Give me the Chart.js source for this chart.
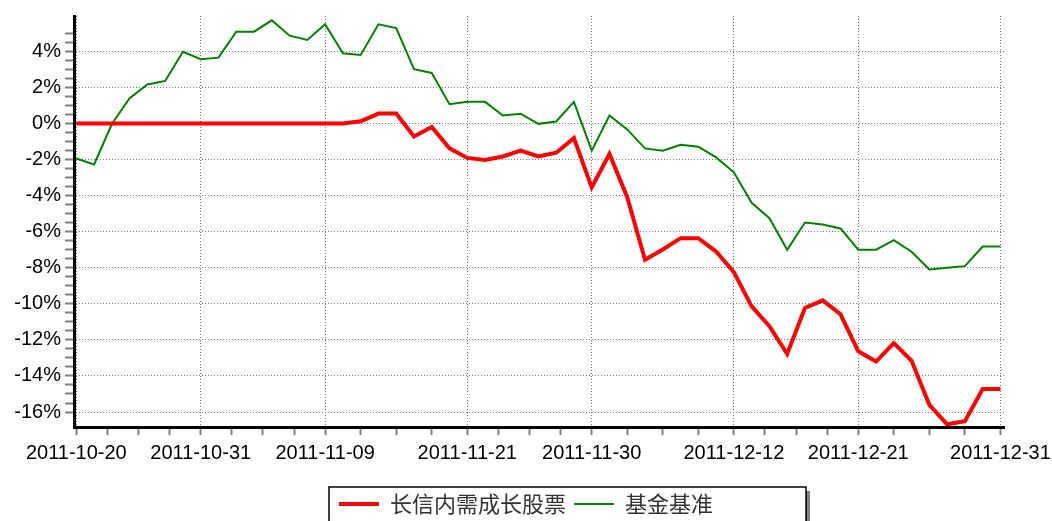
<!DOCTYPE html>
<html>
<head>
<meta charset="utf-8">
<script src="https://cdn.jsdelivr.net/npm/chart.js@4/dist/chart.umd.min.js"></script>
<style>
html,body{margin:0;padding:0;background:#fff;}
#c{display:block;}
</style>
</head>
<body>
<canvas id="c" width="1052" height="521"></canvas>
<script>
const dates = [
  '2011-10-20','2011-10-21','2011-10-24','2011-10-25','2011-10-26','2011-10-27','2011-10-28','2011-10-31',
  '2011-11-01','2011-11-02','2011-11-03','2011-11-04','2011-11-07','2011-11-08','2011-11-09','2011-11-10',
  '2011-11-11','2011-11-14','2011-11-15','2011-11-16','2011-11-17','2011-11-18','2011-11-21','2011-11-22',
  '2011-11-23','2011-11-24','2011-11-25','2011-11-28','2011-11-29','2011-11-30','2011-12-01','2011-12-02',
  '2011-12-05','2011-12-06','2011-12-07','2011-12-08','2011-12-09','2011-12-12','2011-12-13','2011-12-14',
  '2011-12-15','2011-12-16','2011-12-19','2011-12-20','2011-12-21','2011-12-22','2011-12-23','2011-12-26',
  '2011-12-27','2011-12-28','2011-12-29','2011-12-30','2011-12-31'
];

const fundValues = [
  0, 0, 0, 0, 0, 0, 0, 0, 0, 0,
  0, 0, 0, 0, 0, 0, 0.12, 0.55, 0.55, -0.72,
  -0.20, -1.38, -1.91, -2.02, -1.83, -1.51, -1.83, -1.62, -0.81, -3.54,
  -1.69, -4.09, -7.56, -6.99, -6.36, -6.36, -7.10, -8.24, -10.14, -11.24,
  -12.78, -10.23, -9.81, -10.58, -12.63, -13.20, -12.18, -13.16, -15.60, -16.68,
  -16.51, -14.72, -14.72
];

const benchmarkValues = [
  -1.94, -2.27, -0.03, 1.40, 2.16, 2.36, 3.98, 3.56, 3.65, 5.09,
  5.09, 5.72, 4.87, 4.63, 5.50, 3.89, 3.80, 5.50, 5.29, 3.01,
  2.80, 1.07, 1.20, 1.20, 0.44, 0.54, -0.02, 0.11, 1.20, -1.51,
  0.44, -0.33, -1.38, -1.51, -1.18, -1.29, -1.88, -2.71, -4.40, -5.25,
  -7.00, -5.49, -5.60, -5.82, -7.00, -7.00, -6.47, -7.11, -8.09, -8.00,
  -7.91, -6.82, -6.82
];

const xTickLabels = ['2011-10-20','2011-10-31','2011-11-09','2011-11-21','2011-11-30','2011-12-12','2011-12-21','2011-12-31'];
const seriesNames = ['长信内需成长股票', '基金基准'];

// derived helpers
const majorIdx = xTickLabels.map(d => dates.indexOf(d));
const xTickValues = [];
majorIdx.forEach((m, k) => {
  xTickValues.push(m);
  if (k < majorIdx.length - 1) {
    const n = majorIdx[k + 1];
    [0.25, 0.5, 0.75].forEach(q => xTickValues.push(m + (n - m) * q));
  }
});
const isMajorX = v => majorIdx.indexOf(v) !== -1;
const isMajorY = v => Math.abs(v / 2 - Math.round(v / 2)) < 1e-9;
const isMinorY = v => Math.abs(v * 2 - Math.round(v * 2)) < 1e-9;

const legendFrame = {
  id: 'legendFrame',
  beforeDraw(chart) {
    const lg = chart.legend;
    if (!lg || !lg.legendHitBoxes || !lg.legendHitBoxes.length) return;
    const hb = lg.legendHitBoxes[0];
    const x0 = hb.left - 10, y0 = lg.top + 2, w = 477, h = 60;
    const ctx = chart.ctx;
    ctx.save();
    ctx.fillStyle = '#808080';
    ctx.fillRect(x0 + 4, y0 + 4, w, h);
    ctx.fillStyle = '#ffffff';
    ctx.fillRect(x0, y0, w, h);
    ctx.strokeStyle = '#000000';
    ctx.lineWidth = 1.5;
    ctx.strokeRect(x0, y0, w, h);
    ctx.restore();
  }
};

const axisFont = { family: '"Liberation Sans", Arial, sans-serif', size: 20 };

new Chart(document.getElementById('c'), {
  type: 'line',
  data: {
    datasets: [
      {
        label: seriesNames[0],
        data: fundValues.map((v, i) => ({ x: i, y: v })),
        borderColor: '#ff0000',
        backgroundColor: '#ff0000',
        borderWidth: 4,
        pointRadius: 0,
        tension: 0,
        fill: false
      },
      {
        label: seriesNames[1],
        data: benchmarkValues.map((v, i) => ({ x: i, y: v })),
        borderColor: '#008000',
        backgroundColor: '#008000',
        borderWidth: 2,
        pointRadius: 0,
        tension: 0,
        fill: false
      }
    ]
  },
  options: {
    responsive: false,
    animation: false,
    devicePixelRatio: 1,
    layout: { padding: { top: 3, left: 0, right: 0, bottom: -4 } },
    plugins: {
      tooltip: { enabled: false },
      legend: {
        position: 'bottom',
        labels: {
          usePointStyle: true,
          pointStyle: 'line',
          pointStyleWidth: 40,
          padding: 8,
          color: '#333333',
          font: { family: '"Noto Sans CJK SC", sans-serif', size: 22 }
        }
      }
    },
    scales: {
      x: {
        type: 'linear',
        min: -0.13,
        max: 52.2,
        afterBuildTicks: s => { s.ticks = xTickValues.map(v => ({ value: v })); },
        afterFit: s => { s.height = 58; s.paddingRight = 48; },
        ticks: {
          autoSkip: false,
          maxRotation: 0,
          minRotation: 0,
          padding: 6,
          color: '#000000',
          font: axisFont,
          callback: v => isMajorX(v) ? dates[v] : ''
        },
        grid: {
          color: c => (c.tick && isMajorX(c.tick.value)) ? '#7a7a7a' : 'rgba(0,0,0,0)',
          lineWidth: 1,
          tickColor: '#808080',
          tickWidth: 2,
          tickLength: 8
        },
        border: { color: '#000000', width: 3, dash: [1, 2] }
      },
      y: {
        min: -16.83,
        max: 5.96,
        afterFit: s => { s.width = 74; },
        ticks: {
          stepSize: 0.5,
          autoSkip: false,
          padding: 4,
          color: '#000000',
          font: axisFont,
          callback: v => isMajorY(v) ? (Math.round(v) + '%') : ''
        },
        grid: {
          color: c => (c.tick && isMajorY(c.tick.value)) ? '#7a7a7a' : 'rgba(0,0,0,0)',
          lineWidth: 1,
          tickColor: c => (c.tick && isMinorY(c.tick.value)) ? '#808080' : 'rgba(0,0,0,0)',
          tickWidth: 2,
          tickLength: 9
        },
        border: { color: '#000000', width: 3, dash: [1, 2] }
      }
    }
  },
  plugins: [legendFrame]
});
</script>
</body>
</html>
